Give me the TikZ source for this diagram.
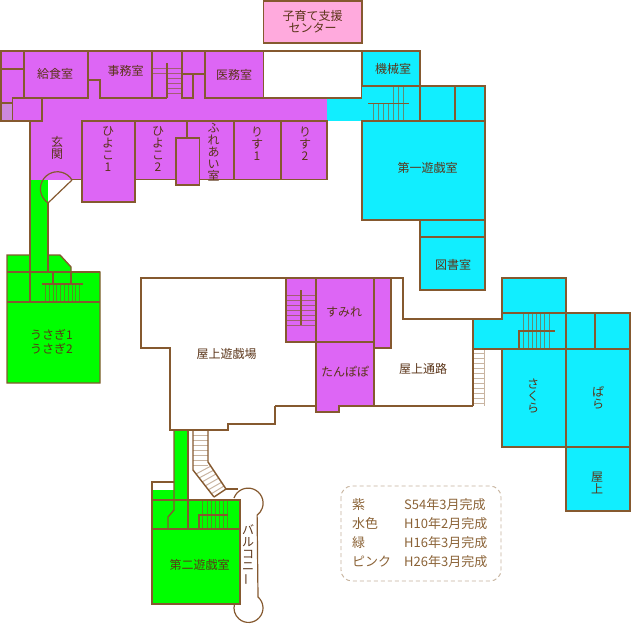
\documentclass[tikz,border=0pt]{standalone}
\usepackage{fontspec}
\setmainfont{Noto Sans CJK JP}
\definecolor{wall}{HTML}{85592F}
\definecolor{pur}{HTML}{DD66F5}
\definecolor{pur2}{HTML}{CC88DD}
\definecolor{cya}{HTML}{11EEFF}
\definecolor{gre}{HTML}{00FF00}
\definecolor{pin}{HTML}{FFAADD}
\definecolor{ink}{HTML}{5A3418}
\definecolor{leg}{HTML}{8A6236}
\tikzset{
 wl/.style={draw=wall,line width=1.4pt,line join=miter},
 rp/.style={wl,fill=pur},
 rc/.style={wl,fill=cya},
 rg/.style={wl,fill=gre},
 st/.style={draw=wall,line width=0.9pt,opacity=.65},
 stl/.style={draw=wall,line width=1pt,opacity=.45},
 lb/.style={text=ink,font=\fontsize{12}{12}\selectfont,inner sep=0pt,align=center},
 lg/.style={text=leg,font=\fontsize{13}{13}\selectfont,inner sep=0pt,anchor=west},
}
\begin{document}
\begin{tikzpicture}[x=1pt,y=-1pt]
\useasboundingbox (0,0) rectangle (632,624);
% pink
\draw[wl,fill=pin] (263.5,1) rectangle (362,43);
% purple fills
\fill[pur] (30,98) rectangle (327,121);
\fill[pur] (88,79) rectangle (101,99);
\fill[cya] (327,98) rectangle (362,121);
\fill[pur] (30,121) rectangle (82,180);
\draw[wl,fill=pur2] (1,103) rectangle (12.5,121);
\draw[rp] (1,51) rectangle (24,69);
\draw[rp] (1,69) rectangle (24,103);
\draw[rp] (24,51) rectangle (88,98);
\draw[rp] (12.5,98) rectangle (42,121);
\draw[rp] (88,51) -- (152,51) -- (152,98) -- (100,98) -- (100,80) -- (88,80) -- cycle;
\fill[pur] (152,51) rectangle (205,98);
\draw[wl] (152,51) -- (205,51);
\draw[wl] (152,51) -- (152,98) -- (167,98);
\draw[wl] (167,63) -- (167,98);
\draw[wl] (182,51) -- (182,98) -- (193,98) -- (193,74);
\draw[wl] (182,74) -- (205,74);
\foreach \yy in {68,73} \draw[st] (152,\yy) -- (182,\yy);
\foreach \yy in {78,83,88,93} \draw[st] (167,\yy) -- (182,\yy);
\draw[rp] (205,51) rectangle (263.5,98);
\draw[wl] (263.5,51) -- (362,51);
\draw[wl] (263.5,98) -- (362,98);
\draw[wl] (362,51) -- (362,98);
% lower purple
\draw[rp] (135,121) rectangle (187,179.5);
\draw[rp] (187,121) rectangle (234,179.5);
\draw[rp] (234,121) rectangle (281,179.5);
\draw[rp] (281,121) rectangle (327,179.5);
\draw[rp] (82,121) rectangle (135,202);
\fill[pur] (188,122) rectangle (199,178);
\draw[wl] (187,121) -- (187,138);
\draw[wl] (187,121) -- (234,121);
\draw[wl] (187,179.5) -- (234,179.5);
\draw[rp] (176,138) rectangle (199.5,185);
\draw[wl] (42,121) -- (30,121) -- (30,180);
\draw[wl] (72,179.5) -- (82,179.5);
% left green
\fill[gre] (31,180) rectangle (48,272);
\draw[rg] (30,255) -- (7,255) -- (7,383) -- (100,383) -- (100,272) -- (71,272) -- (71,267) -- (60,255) -- (48,255);
\fill[gre] (31,250) rectangle (47.5,271);
\draw[wl] (30,180) -- (30,302);
\draw[wl] (48,203) -- (48,272);
\draw[wl] (7,272) -- (100,272);
\draw[wl] (7,302) -- (100,302);
\draw[wl] (53,272) -- (53,284);
\draw[wl] (71,272) -- (71,284);
\draw[wl] (42,284) -- (83,284);
\foreach \xx in {45.5,49.3,53.1,56.9,60.7,64.5,68.3,72.1,75.9,79.7} \draw[st] (\xx,284) -- (\xx,302);
% door
\draw[wall,line width=1.2pt] (48,203) -- (72,180);
\draw[wall,line width=1.2pt] (72,180) arc[start angle=-31,end angle=-237,radius=17];
% cyan block
\fill[cya] (362,86) rectangle (420,121);
\draw[rc] (362,51) rectangle (420,86);
\draw[wl] (362,86) -- (420,86) -- (420,121);
\draw[rc] (420,86) rectangle (455,121);
\draw[rc] (455,86) rectangle (485,121);
\draw[rc] (362,121) rectangle (485,220);
\draw[rc] (420,220) rectangle (485,237);
\draw[rc] (420,237) rectangle (485,290);
\draw[wall,line width=1pt] (368,103) -- (409,103);
\foreach \xx in {373,378,383,388,393,398,403} \draw[st] (\xx,103) -- (\xx,121);
\foreach \xx in {393,398,403} \draw[st] (\xx,86) -- (\xx,103);
% roof
\draw[wl] (275,406) -- (275,424) -- (228,424) -- (228,430) -- (170,430) -- (170,348) -- (141,348) -- (141,278) -- (403,278) -- (403,319) -- (473,319);
\draw[wl] (275,406) -- (316,406);
\draw[rp] (286,278) rectangle (316,342);
\draw[rp] (374,278) rectangle (391,348);
\draw[rp] (316,278) rectangle (374,342);
\draw[rp] (316,342) -- (374,342) -- (374,406) -- (339,406) -- (339,412) -- (316,412) -- cycle;
\draw[wl] (374,406) -- (473,406);
\draw[wall,line width=1.2pt] (301,290) -- (301,325);
\foreach \yy in {295,300,305,310,315,320,325} \draw[st] (286,\yy) -- (316,\yy);
% roof exterior stair
\draw[stl] (484,349) -- (484,406);
\foreach \yy in {353,358,363,368,373,378,383,388,393,398,403} \draw[stl] (473,\yy) -- (484,\yy);
% right cyan
\draw[rc] (473,319) -- (502,319) -- (502,313) -- (566,313) -- (566,349) -- (473,349) -- cycle;
\draw[rc] (502,278) rectangle (566,313);
\draw[rc] (566,313) rectangle (595,349);
\draw[rc] (595,313) rectangle (630,349);
\draw[rc] (502,349) rectangle (566,447);
\draw[rc] (566,349) rectangle (630,447);
\draw[rc] (566,447) rectangle (630,511);
\draw[wl] (473,319) -- (473,406);
\foreach \xx in {523,528,532,536,540,544,549} \draw[st] (\xx,313) -- (\xx,349);
\draw[wl] (519,349) -- (519,331) -- (554.5,331);
% lower green
\fill[gre] (153,490) rectangle (174,500);
\fill[gre] (174,431) rectangle (188,500);
\draw[wl] (152,500) -- (152,482) -- (174,482);
\draw[rg] (152,500) rectangle (240,604);
\draw[wl] (152,529) -- (240,529);
\draw[wl] (174,430) -- (174,510) -- (168,517) -- (168,529);
\draw[wl] (188,430) -- (188,529);
\foreach \xx in {202,207,211,215,219,223,227} \draw[st] (\xx,500) -- (\xx,529);
\draw[wl] (199,529) -- (199,515) -- (228,515);
% white stair
\draw[wl] (193,430) -- (193,470) -- (214,497);
\draw[wl] (208,430) -- (208,462) -- (226,489);
\draw[wl] (214,497) -- (226,489);
\foreach \yy in {435,440,445,450,455,460,465} \draw[stl] (193,\yy) -- (208,\yy);
\foreach \aa/\ab/\ba/\bb in {196/474/211/466,199/478/214/470,202/482/216/474,205/486/219/478,208/490/222/482,211/494/224/486} \draw[stl] (\aa,\ab) -- (\ba,\bb);
% balcony
\draw[wall,line width=1.2pt] (226,489) -- (238,489);
\draw[wall,line width=1.2pt] (234,498) arc[start angle=-160,end angle=53,radius=15] -- (258,597) arc[start angle=-49,end angle=196,radius=14.5] -- (240,604);
% legend
\draw[draw=leg,opacity=.5,line width=0.9pt,dash pattern=on 4pt off 3pt,rounded corners=11pt] (341,486) rectangle (501,581);
% labels
\node[lb] (n1) at (312.5,22) {子育て支援\\センター};
\node[lb] (n2) at (55,73.5) {給食室};
\node[lb] (n3) at (125.5,71) {事務室};
\node[lb] (n4) at (234,75) {医務室};
\node[lb] (n5) at (393,68.5) {機械室};
\node[lb] (n6) at (427.5,167.5) {第一遊戯室};
\node[lb] (n7) at (453,264.5) {図書室};
\node[lb] (n8) at (57,148) {玄\\関};
\node[lb] (n9) at (108,149) {ひ\\よ\\こ\\1};
\node[lb] (n10) at (158,149) {ひ\\よ\\こ\\2};
\node[lb] (n11) at (213.5,152) {ふ\\れ\\あ\\い\\室};
\node[lb] (n12) at (257,143.5) {り\\す\\1};
\node[lb] (n13) at (305,143.5) {り\\す\\2};
\node[lb] (n14) at (51.5,342) {うさぎ1\\[2pt]うさぎ2};
\node[lb] (n15) at (226.5,354) {屋上遊戯場};
\node[lb] (n16) at (344,312) {すみれ};
\node[lb] (n17) at (345,372) {たんぽぽ};
\node[lb] (n18) at (423,369) {屋上通路};
\node[lb] (n19) at (533,396) {さ\\く\\ら};
\node[lb] (n20) at (598,398) {ぱ\\ら};
\node[lb] (n21) at (597,483) {屋\\上};
\node[lb] (n22) at (199.5,565) {第二遊戯室};
\node[lb] (n23) at (248,555) {バ\\ル\\コ\\ニ\\\rotatebox[origin=c]{90}{ー}};
% legend text
\node[lg] (l1) at (352,505) {紫};
\node[lg] (l2) at (352,524) {水色};
\node[lg] (l3) at (352,543) {緑};
\node[lg] (l4) at (352,562) {ピンク};
\node[lg] (l5) at (404,505) {S54年3月完成};
\node[lg] (l6) at (404,524) {H10年2月完成};
\node[lg] (l7) at (404,543) {H16年3月完成};
\node[lg] (l8) at (404,562) {H26年3月完成};
\end{tikzpicture}
\end{document}
